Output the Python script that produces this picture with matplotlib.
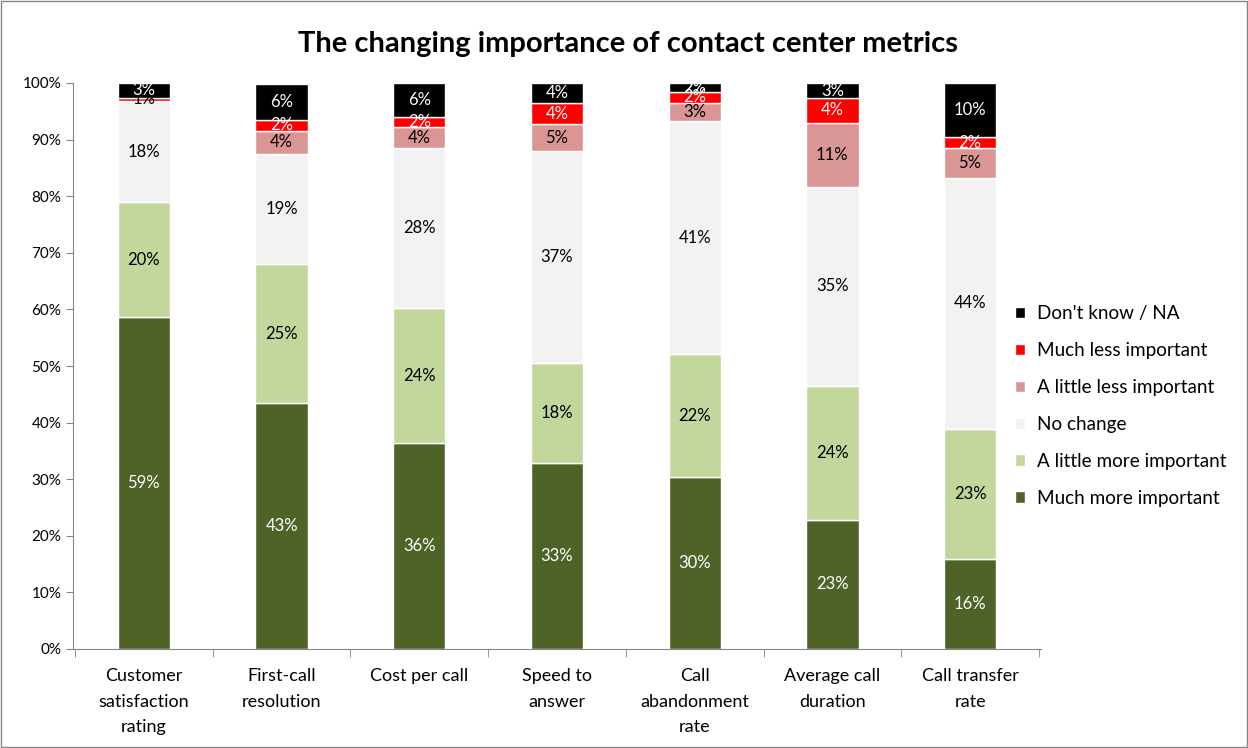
import matplotlib.pyplot as plt
from matplotlib.patches import Rectangle

plt.rcParams['font.family'] = ['Lato', 'DejaVu Sans']

# Categories and shares (percent).
categories = ['Customer\nsatisfaction\nrating', 'First-call\nresolution', 'Cost per call',
              'Speed to\nanswer', 'Call\nabandonment\nrate', 'Average call\nduration',
              'Call transfer\nrate']
much_more = [58.7, 43.4, 36.4, 32.9, 30.4, 22.8, 15.9]
little_more = [20.2, 24.6, 23.8, 17.6, 21.7, 23.7, 23.0]
no_change = [17.9, 19.4, 28.3, 37.4, 41.2, 35.1, 44.3]
little_less = [0.0, 4.2, 3.7, 4.8, 3.2, 11.4, 5.3]
much_less = [0.6, 1.9, 1.8, 3.7, 1.9, 4.3, 1.9]
dont_know = [2.6, 6.3, 6.0, 3.6, 1.6, 2.7, 9.6]

series = [
    ('Much more important', much_more, '#4F6228', 'white'),
    ('A little more important', little_more, '#C3D69B', 'black'),
    ('No change', no_change, '#F2F2F2', 'black'),
    ('A little less important', little_less, '#D99694', 'black'),
    ('Much less important', much_less, '#FF0000', 'white'),
    ("Don't know / NA", dont_know, '#000000', 'white'),
]

fig = plt.figure(figsize=(12.48, 7.48), dpi=100)
ax = fig.add_axes([73 / 1248, 1 - 649 / 748, (1041 - 73) / 1248, (649 - 83) / 748])

x = list(range(len(categories)))
bottom = [0.0] * len(categories)
handles = []
for name, values, color, txtcolor in series:
    bars = ax.bar(x, values, width=0.38, bottom=bottom, color=color,
                  edgecolor='white', linewidth=1, label=name)
    handles.append(bars)
    for i, v in enumerate(values):
        if v > 0:
            c = txtcolor
            if v < 1:
                c = 'black'
            ax.text(i, bottom[i] + v / 2, '{:.0f}%'.format(v), ha='center', va='center',
                    fontsize=12, color=c)
    bottom = [b + v for b, v in zip(bottom, values)]

ax.set_xlim(-0.515, len(categories) - 0.485)
ax.set_ylim(0, 100)
ax.set_yticks(range(0, 101, 10))
ax.set_yticklabels(['{}%'.format(t) for t in range(0, 101, 10)], fontsize=11)
ax.set_xticks(x)
ax.set_xticklabels(categories, fontsize=13, linespacing=1.7)
ax.tick_params(axis='x', length=0, pad=14)
ax.set_xticks([i + 0.5 for i in range(-1, len(categories))], minor=True)
ax.tick_params(axis='x', which='minor', length=6, color='#868686')
ax.tick_params(axis='y', length=5, color='#868686')
for side in ['top', 'right']:
    ax.spines[side].set_visible(False)
for side in ['left', 'bottom']:
    ax.spines[side].set_color('#868686')

fig.suptitle('The changing importance of contact center metrics', fontsize=21,
             fontweight='bold', y=1 - 44 / 748, x=0.503, va='center')

leg = fig.legend(handles[::-1], [s[0] for s in series][::-1], loc='center left',
                 bbox_to_anchor=(998 / 1248, 1 - 406 / 748), frameon=False,
                 fontsize=13.6, handlelength=0.55, handleheight=0.55,
                 labelspacing=1.05, handletextpad=0.6)

fig.patches.append(Rectangle((0.001, 0.001), 0.998, 0.998, transform=fig.transFigure,
                             fill=False, edgecolor='#868686', linewidth=1))

fig.savefig('out.png', dpi=100)
